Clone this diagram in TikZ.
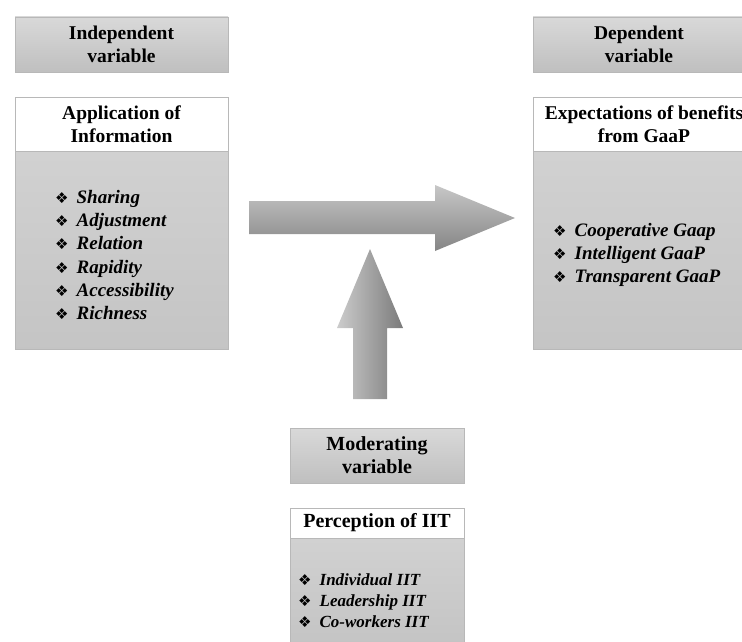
\documentclass[tikz,border=0pt]{standalone}
\usepackage{fontspec}
\setmainfont{Liberation Serif}
\newfontfamily\djv{DejaVu Sans}
\newcommand{\bul}{{\djv\fontsize{15}{15}\selectfont ❖}\hspace{8pt}}
\begin{document}
\begin{tikzpicture}[x=1pt,y=-1pt,
  varbox/.style={draw=black!28, line width=0.6pt, top color=black!15, bottom color=black!25,
    minimum height=55pt, inner sep=0pt, align=center,
    font=\fontsize{19.5}{23}\selectfont\bfseries},
  headbox/.style={draw=black!28, line width=0.6pt, fill=white, inner sep=0pt, align=center,
    font=\fontsize{19.5}{23}\selectfont\bfseries},
  bodybox/.style={draw=black!28, line width=0.6pt, top color=black!18, bottom color=black!23, inner sep=0pt},
  itemlist/.style={align=left, inner sep=0pt, font=\fontsize{19}{23.3}\selectfont\bfseries\itshape},
  harrow/.style={top color=black!22, bottom color=black!48, draw=none},
  varrow/.style={left color=black!20, right color=black!52, draw=none}
]
\useasboundingbox (0,0) rectangle (742,642);

% Independent
\node[varbox, minimum width=213pt] (indep) at (121.5,44.5) {Independent\\variable};
\node[bodybox, minimum width=213pt, minimum height=198pt] (appbody) at (121.5,250) {};
\node[headbox, minimum width=213pt, minimum height=54pt] (apphead) at (121.5,124) {Application of\\Information};
\node[itemlist, anchor=west] (applist) at (55,255) {\bul Sharing\\\bul Adjustment\\\bul Relation\\\bul Rapidity\\\bul Accessibility\\\bul Richness};

% Dependent
\node[varbox, minimum width=212pt] (dep) at (639,44.5) {Dependent\\variable};
\node[bodybox, minimum width=212pt, minimum height=198pt] (expbody) at (639,250) {};
\node[headbox, minimum width=212pt, minimum height=54pt] (exphead) at (639,124) {};
\node[headbox, draw=none, fill=none] (exptext) at (644,124) {Expectations of benefits\\from GaaP};
\node[itemlist, anchor=west] (explist) at (553,255) {\bul Cooperative Gaap\\\bul Intelligent GaaP\\\bul Transparent GaaP};

% Moderating
\node[varbox, minimum width=174pt, font=\fontsize{20}{23}\selectfont\bfseries] (mod) at (377,455.5) {Moderating\\variable};
\node[bodybox, minimum width=174pt, minimum height=104pt] (perbody) at (377,590) {};
\node[headbox, minimum width=174pt, minimum height=30pt, font=\fontsize{20}{23}\selectfont\bfseries] (perhead) at (377,523) {Perception of IIT};
\node[itemlist, anchor=west, font=\fontsize{17}{21}\selectfont\bfseries\itshape] (perlist) at (298,601) {\bul Individual IIT\\\bul Leadership IIT\\\bul Co-workers IIT};

% Arrows
\path[harrow] (249,201) -- (435,201) -- (435,185) -- (515,218) -- (435,251) -- (435,234) -- (249,234) -- cycle;
\path[varrow] (353,399) -- (353,328) -- (337,328) -- (370,249) -- (403,328) -- (387,328) -- (387,399) -- cycle;
\end{tikzpicture}
\end{document}
